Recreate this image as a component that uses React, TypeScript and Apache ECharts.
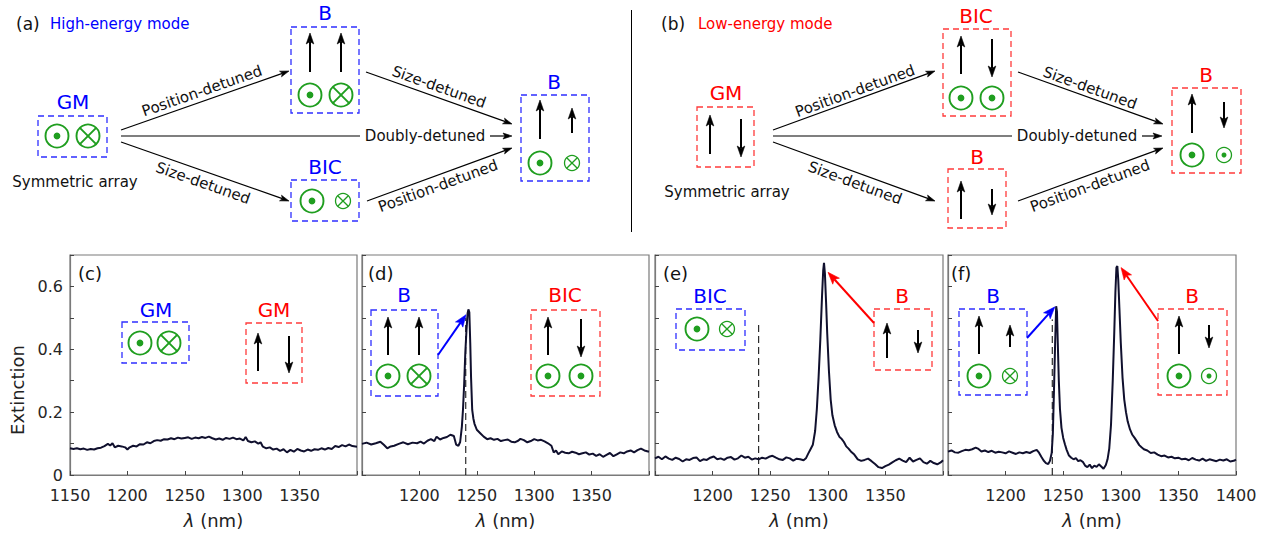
import React, { useEffect, useRef } from "react";
import * as echarts from "echarts";

const FONT = '"DejaVu Sans", sans-serif';
const BLUE = "#0000ff";
const BLUE_BOX = "#2f2fff";
const RED = "#ff0000";
const RED_BOX = "#ff3b3b";
const GREEN = "#1f9e1f";
const INK = "#000000";
const CURVE = "#10102e";
const FRAME = "#7a7a7a";

// ---------------- data ----------------
const panelLabels = ["(c)", "(d)", "(e)", "(f)"];
const yLabelValues = [0, 0.2, 0.4, 0.6];
const xLabelRange = [
  [1150, 1350],
  [1200, 1350],
  [1200, 1350],
  [1200, 1400],
];

// (c) symmetric array
const specC = [
  [1150, 0.085], [1153, 0.083], [1156, 0.085], [1159, 0.082], [1162, 0.084], [1165, 0.08], [1168, 0.083],
  [1171, 0.081], [1174, 0.085], [1177, 0.087], [1180, 0.092], [1183, 0.099], [1185, 0.094], [1187, 0.101],
  [1189, 0.088], [1192, 0.093], [1195, 0.091], [1198, 0.088], [1200, 0.081], [1202, 0.088], [1205, 0.093],
  [1208, 0.091], [1211, 0.098], [1214, 0.097], [1217, 0.104], [1220, 0.101], [1223, 0.108], [1226, 0.111],
  [1229, 0.109], [1232, 0.114], [1235, 0.113], [1238, 0.117], [1241, 0.114], [1244, 0.119], [1247, 0.116],
  [1250, 0.118], [1253, 0.12], [1256, 0.115], [1259, 0.119], [1262, 0.117], [1265, 0.121], [1268, 0.118],
  [1271, 0.122], [1274, 0.117], [1277, 0.113], [1280, 0.116], [1283, 0.112], [1286, 0.118], [1289, 0.115],
  [1292, 0.119], [1295, 0.114], [1298, 0.116], [1301, 0.11], [1303, 0.121], [1305, 0.108], [1308, 0.104],
  [1311, 0.107], [1314, 0.1], [1316, 0.104], [1318, 0.09], [1321, 0.085], [1324, 0.088], [1327, 0.081],
  [1330, 0.084], [1333, 0.077], [1336, 0.082], [1339, 0.072], [1342, 0.08], [1345, 0.074], [1348, 0.083],
  [1351, 0.078], [1354, 0.075], [1357, 0.081], [1360, 0.077], [1363, 0.082], [1366, 0.08], [1369, 0.085],
  [1372, 0.081], [1375, 0.086], [1378, 0.083], [1381, 0.092], [1384, 0.089], [1387, 0.095], [1390, 0.091],
  [1393, 0.097], [1396, 0.092], [1400, 0.09],
];

// (d) position-detuned
const specD = [
  [1150, 0.099], [1154, 0.103], [1158, 0.097], [1162, 0.101], [1166, 0.106], [1169, 0.096], [1172, 0.085],
  [1175, 0.091], [1178, 0.093], [1182, 0.099], [1186, 0.104], [1190, 0.098], [1194, 0.103], [1198, 0.101],
  [1201, 0.106], [1204, 0.1], [1207, 0.109], [1210, 0.114], [1213, 0.108], [1215, 0.122], [1218, 0.113],
  [1221, 0.118], [1224, 0.121], [1227, 0.128], [1230, 0.124], [1232, 0.097], [1234, 0.093], [1235.5, 0.105],
  [1237, 0.154], [1238, 0.21], [1239, 0.29], [1240, 0.39], [1241, 0.46], [1242, 0.515], [1242.7, 0.527],
  [1243.5, 0.518], [1244.3, 0.42], [1245, 0.31], [1246, 0.207], [1247, 0.18], [1248, 0.163], [1250, 0.144],
  [1253, 0.133], [1256, 0.122], [1259, 0.114], [1262, 0.117], [1265, 0.112], [1268, 0.115], [1271, 0.108],
  [1274, 0.111], [1277, 0.113], [1280, 0.106], [1283, 0.104], [1286, 0.109], [1288, 0.115], [1291, 0.111],
  [1294, 0.104], [1297, 0.108], [1300, 0.114], [1303, 0.11], [1306, 0.112], [1309, 0.107], [1312, 0.101],
  [1315, 0.093], [1317, 0.072], [1319, 0.078], [1321, 0.066], [1324, 0.075], [1327, 0.071], [1330, 0.069],
  [1333, 0.074], [1336, 0.071], [1339, 0.066], [1342, 0.069], [1345, 0.072], [1348, 0.065], [1351, 0.068],
  [1354, 0.061], [1357, 0.066], [1360, 0.058], [1363, 0.064], [1366, 0.07], [1369, 0.06], [1372, 0.066],
  [1375, 0.072], [1378, 0.069], [1381, 0.075], [1384, 0.078], [1387, 0.072], [1390, 0.079], [1393, 0.084],
  [1396, 0.078], [1400, 0.074],
];

// (e) size-detuned
const specE = [
  [1150, 0.053], [1153, 0.058], [1156, 0.05], [1159, 0.059], [1162, 0.052], [1165, 0.048], [1168, 0.055],
  [1171, 0.051], [1174, 0.043], [1177, 0.05], [1180, 0.048], [1183, 0.054], [1186, 0.056], [1189, 0.044],
  [1192, 0.05], [1195, 0.048], [1198, 0.055], [1201, 0.059], [1204, 0.05], [1207, 0.053], [1210, 0.048],
  [1213, 0.055], [1216, 0.057], [1219, 0.049], [1222, 0.053], [1225, 0.062], [1228, 0.055], [1231, 0.058],
  [1234, 0.049], [1237, 0.053], [1240, 0.05], [1243, 0.055], [1246, 0.052], [1249, 0.058], [1252, 0.061],
  [1255, 0.055], [1258, 0.05], [1261, 0.048], [1264, 0.056], [1267, 0.053], [1270, 0.046], [1273, 0.052],
  [1276, 0.05], [1279, 0.047], [1281, 0.053], [1283, 0.068], [1285, 0.082], [1287, 0.096], [1289, 0.14],
  [1290.5, 0.21], [1292, 0.31], [1293.5, 0.43], [1295, 0.57], [1296, 0.65], [1296.7, 0.675], [1297.5, 0.64],
  [1298.5, 0.55], [1299.5, 0.45], [1301, 0.33], [1302.5, 0.24], [1304, 0.19], [1306, 0.158], [1308, 0.137],
  [1310, 0.122], [1312, 0.115], [1314, 0.105], [1316, 0.091], [1318, 0.084], [1320, 0.075], [1323, 0.065],
  [1326, 0.05], [1329, 0.045], [1332, 0.048], [1335, 0.052], [1338, 0.044], [1341, 0.035], [1344, 0.025],
  [1347, 0.022], [1350, 0.028], [1353, 0.033], [1356, 0.04], [1359, 0.047], [1362, 0.052], [1365, 0.046],
  [1368, 0.041], [1371, 0.055], [1374, 0.043], [1377, 0.048], [1380, 0.053], [1383, 0.041], [1386, 0.036],
  [1389, 0.045], [1392, 0.038], [1395, 0.034], [1398, 0.04], [1400, 0.047],
];

// (f) doubly-detuned
const specF = [
  [1150, 0.0745], [1153, 0.078], [1156, 0.072], [1159, 0.071], [1162, 0.076], [1165, 0.08], [1168, 0.079],
  [1171, 0.082], [1174, 0.087], [1176, 0.084], [1179, 0.075], [1182, 0.078], [1185, 0.073], [1188, 0.077],
  [1191, 0.071], [1194, 0.074], [1197, 0.072], [1200, 0.069], [1203, 0.075], [1206, 0.071], [1209, 0.067],
  [1212, 0.072], [1215, 0.069], [1218, 0.073], [1221, 0.07], [1224, 0.076], [1227, 0.08], [1229, 0.071],
  [1231, 0.058], [1233, 0.046], [1235, 0.038], [1237, 0.035], [1238.5, 0.045], [1240, 0.07], [1241, 0.13],
  [1242, 0.27], [1243, 0.42], [1243.9, 0.537], [1244.6, 0.52], [1245.3, 0.42], [1246.2, 0.3], [1247.2, 0.21],
  [1248.5, 0.15], [1250, 0.118], [1251.5, 0.098], [1253, 0.08], [1255, 0.062], [1257, 0.055], [1259, 0.05],
  [1261, 0.054], [1263, 0.044], [1265, 0.047], [1267, 0.042], [1269, 0.03], [1271, 0.025], [1273, 0.033],
  [1275, 0.022], [1277, 0.03], [1279, 0.026], [1281, 0.034], [1283, 0.027], [1285, 0.02], [1287, 0.032],
  [1288.5, 0.05], [1290, 0.085], [1291.5, 0.16], [1293, 0.3], [1294.3, 0.45], [1295.3, 0.58], [1296.2, 0.66],
  [1297, 0.665], [1297.8, 0.62], [1298.8, 0.53], [1300, 0.42], [1301.5, 0.31], [1303, 0.24], [1304.5, 0.2],
  [1306, 0.17], [1308, 0.145], [1310, 0.128], [1312, 0.118], [1314, 0.107], [1316, 0.095], [1318, 0.088],
  [1320, 0.082], [1323, 0.078], [1326, 0.07], [1329, 0.072], [1332, 0.065], [1335, 0.06], [1338, 0.062],
  [1341, 0.056], [1344, 0.058], [1347, 0.053], [1350, 0.055], [1353, 0.05], [1356, 0.052], [1359, 0.047],
  [1362, 0.054], [1365, 0.049], [1368, 0.046], [1371, 0.052], [1374, 0.045], [1377, 0.05], [1380, 0.047],
  [1383, 0.044], [1386, 0.049], [1389, 0.046], [1392, 0.05], [1395, 0.043], [1398, 0.045], [1400, 0.049],
];

const spectra = [specC, specD, specE, specF];

// dashed reference lines (wavelength, top value) in panels d, e, f
const dashedMarks = [
  { grid: 1, x: 1240.4, top: 0.5 },
  { grid: 2, x: 1240, top: 0.485 },
  { grid: 3, x: 1240.5, top: 0.495 },
];

// inset arrows pointing at peaks (tip in data coords)
const insetArrows = [
  { grid: 1, from: [438, 355], tip: [1240.6, 0.51], color: BLUE },
  { grid: 2, from: [874, 323], tip: [1300.2, 0.645], color: RED },
  { grid: 3, from: [1027, 338], tip: [1242.8, 0.535], color: BLUE },
  { grid: 3, from: [1158, 321], tip: [1300.2, 0.66], color: RED },
];

// ---------------- layout ----------------
const GRIDS = [
  { left: 70, width: 287 },
  { left: 362, width: 287 },
  { left: 655, width: 288 },
  { left: 948, width: 288 },
];
const GRID_TOP = 255;
const GRID_H = 220;

// ---------------- graphic helpers ----------------
function text(t: string, x: number, y: number, o: any = {}) {
  const size = o.size || 15;
  return {
    type: "text",
    x,
    y,
    rotation: o.rot || 0,
    z: 10,
    style: {
      text: t,
      fill: o.color || "#111",
      font: `${size}px "DejaVu Sans", sans-serif`,
      textAlign: o.align || "center",
      align: o.align || "center",
      textVerticalAlign: "middle",
      verticalAlign: "middle",
    },
  };
}

function box(x1: number, y1: number, x2: number, y2: number, color: string) {
  return {
    type: "rect",
    z: 10,
    shape: { x: x1, y: y1, width: x2 - x1, height: y2 - y1 },
    style: { fill: "none", stroke: color, lineWidth: 1.3, lineDash: [6, 4] },
  };
}

function arrow(x1: number, y1: number, x2: number, y2: number, color: string, lw: number, hl: number, hw: number) {
  const dx = x2 - x1;
  const dy = y2 - y1;
  const L = Math.hypot(dx, dy);
  const ux = dx / L;
  const uy = dy / L;
  const bx = x2 - ux * hl;
  const by = y2 - uy * hl;
  const nx = x2 - ux * hl * 0.78;
  const ny = y2 - uy * hl * 0.78;
  return [
    { type: "line", z: 10, shape: { x1, y1, x2: nx, y2: ny }, style: { stroke: color, lineWidth: lw } },
    {
      type: "polygon",
      z: 10,
      shape: { points: [[x2, y2], [bx - uy * hw, by + ux * hw], [nx, ny], [bx + uy * hw, by - ux * hw]] },
      style: { fill: color, stroke: color, lineWidth: 0.6 },
    },
  ];
}

function varrow(x: number, yTail: number, yHead: number) {
  return arrow(x, yTail, x, yHead, INK, 2, 11, 3.8);
}

function link(x1: number, y1: number, x2: number, y2: number) {
  return arrow(x1, y1, x2, y2, INK, 1.2, 9, 3);
}

function dotCircle(cx: number, cy: number, r: number) {
  return [
    { type: "circle", z: 10, shape: { cx, cy, r }, style: { fill: "none", stroke: GREEN, lineWidth: r > 9 ? 1.9 : 1.3 } },
    { type: "circle", z: 10, shape: { cx, cy, r: r > 9 ? 3.4 : 2.5 }, style: { fill: GREEN } },
  ];
}

function crossCircle(cx: number, cy: number, r: number) {
  const d = r * 0.707;
  const lw = r > 9 ? 1.9 : 1.3;
  return [
    { type: "circle", z: 10, shape: { cx, cy, r }, style: { fill: "none", stroke: GREEN, lineWidth: lw } },
    { type: "line", z: 10, shape: { x1: cx - d, y1: cy - d, x2: cx + d, y2: cy + d }, style: { stroke: GREEN, lineWidth: lw } },
    { type: "line", z: 10, shape: { x1: cx - d, y1: cy + d, x2: cx + d, y2: cy - d }, style: { stroke: GREEN, lineWidth: lw } },
  ];
}

function buildGraphic(tips: number[][]) {
  const E: any[] = [];
  const push = (x: any) => (Array.isArray(x) ? E.push(...x) : E.push(x));
  const ang = Math.atan2(59, 168);

  // ---------- (a) high-energy mode ----------
  push(text("(a)", 16, 24, { size: 17, align: "left" }));
  push(text("High-energy mode", 50, 24, { size: 15, align: "left", color: BLUE }));
  push(box(38, 116, 107, 157, BLUE_BOX));
  push(text("GM", 73, 102, { size: 20, color: BLUE }));
  push(dotCircle(57, 136, 11.5));
  push(crossCircle(88, 136, 11.5));
  push(text("Symmetric array", 75, 182, { size: 15 }));
  push(link(121, 130, 289, 71));
  push(link(121, 142, 289, 201));
  push({ type: "line", z: 10, shape: { x1: 121, y1: 136, x2: 360, y2: 136 }, style: { stroke: INK, lineWidth: 1.2 } });
  push(text("Doubly-detuned", 425, 136, { size: 15 }));
  push(link(490, 136, 512, 136));
  push(text("Position-detuned", 202, 91, { size: 15, rot: ang }));
  push(text("Size-detuned", 203, 183, { size: 15, rot: -ang }));
  // B (upper)
  push(box(291, 27, 359, 113, BLUE_BOX));
  push(text("B", 325, 13, { size: 20, color: BLUE }));
  push(varrow(310, 72, 33));
  push(varrow(341, 72, 33));
  push(dotCircle(310, 95, 11.5));
  push(crossCircle(341, 95, 11.5));
  // BIC (lower)
  push(box(291, 180, 359, 221, BLUE_BOX));
  push(text("BIC", 325, 167, { size: 20, color: BLUE }));
  push(dotCircle(312, 201, 11.5));
  push(crossCircle(343, 201, 7.5));
  // to final
  push(link(366, 72, 512, 124));
  push(link(367, 201, 512, 148));
  push(text("Size-detuned", 439, 87, { size: 15, rot: -Math.atan2(52, 146) }));
  push(text("Position-detuned", 438, 186, { size: 15, rot: Math.atan2(53, 145) }));
  push(box(521, 95, 589, 181, BLUE_BOX));
  push(text("B", 554, 82, { size: 20, color: BLUE }));
  push(varrow(540, 139, 100));
  push(varrow(572, 133, 108));
  push(dotCircle(540, 163, 11.5));
  push(crossCircle(572, 163, 7.5));

  // separator
  push({ type: "line", z: 10, shape: { x1: 631.5, y1: 10, x2: 631.5, y2: 232 }, style: { stroke: INK, lineWidth: 1 } });

  // ---------- (b) low-energy mode ----------
  push(text("(b)", 661, 24, { size: 17, align: "left" }));
  push(text("Low-energy mode", 698, 24, { size: 15, align: "left", color: RED }));
  push(box(697, 107, 754, 167, RED_BOX));
  push(text("GM", 726, 93, { size: 20, color: RED }));
  push(varrow(710, 154, 115));
  push(varrow(741, 119, 157));
  push(text("Symmetric array", 727, 192, { size: 15 }));
  push(link(773, 130, 935, 71));
  push(link(773, 142, 935, 201));
  push({ type: "line", z: 10, shape: { x1: 773, y1: 136, x2: 1012, y2: 136 }, style: { stroke: INK, lineWidth: 1.2 } });
  push(text("Doubly-detuned", 1077, 136, { size: 15 }));
  push(link(1142, 136, 1162, 136));
  push(text("Position-detuned", 855, 91, { size: 15, rot: Math.atan2(59, 162) }));
  push(text("Size-detuned", 855, 183, { size: 15, rot: -Math.atan2(59, 162) }));
  // BIC (upper)
  push(box(943, 29, 1011, 116, RED_BOX));
  push(text("BIC", 976, 16, { size: 20, color: RED }));
  push(varrow(961, 74, 36));
  push(varrow(992, 39, 77));
  push(dotCircle(961, 98, 11.5));
  push(dotCircle(992, 98, 11.5));
  // B (lower)
  push(box(948, 169, 1006, 228, RED_BOX));
  push(text("B", 977, 157, { size: 20, color: RED }));
  push(varrow(961, 219, 181));
  push(varrow(992, 189, 215));
  // to final
  push(link(1018, 72, 1163, 124));
  push(link(1018, 201, 1163, 148));
  push(text("Size-detuned", 1090, 88, { size: 15, rot: -Math.atan2(52, 145) }));
  push(text("Position-detuned", 1090, 186, { size: 15, rot: Math.atan2(53, 145) }));
  push(box(1172, 88, 1241, 173, RED_BOX));
  push(text("B", 1206, 75, { size: 20, color: RED }));
  push(varrow(1192, 133, 94));
  push(varrow(1224, 102, 128));
  push(dotCircle(1192, 155, 11.5));
  push(dotCircle(1224, 155, 7.5));

  // ---------- panel texts ----------
  push(text("Extinction", 17, 390, { size: 18, rot: Math.PI / 2, color: "#222" }));
  const labelX = [78, 368, 663, 951];
  panelLabels.forEach((l, i) => push(text(l, labelX[i], 273, { size: 18, align: "left", color: "#111" })));

  // (c) insets
  push(text("GM", 156, 310, { size: 20, color: BLUE }));
  push(box(122, 322, 189, 363, BLUE_BOX));
  push(dotCircle(140, 343, 11.5));
  push(crossCircle(169, 343, 11.5));
  push(text("GM", 274, 310, { size: 20, color: RED }));
  push(box(246, 323, 302, 383, RED_BOX));
  push(varrow(258, 371, 333));
  push(varrow(289, 336, 373));

  // (d) insets
  push(text("B", 404, 295, { size: 20, color: BLUE }));
  push(box(371, 310, 438, 396, BLUE_BOX));
  push(varrow(388, 355, 317));
  push(varrow(419, 355, 317));
  push(dotCircle(388, 376, 11.5));
  push(crossCircle(419, 376, 11.5));
  push(text("BIC", 565, 295, { size: 20, color: RED }));
  push(box(531, 310, 600, 396, RED_BOX));
  push(varrow(548, 355, 317));
  push(varrow(581, 319, 357));
  push(dotCircle(548, 376, 11.5));
  push(dotCircle(581, 376, 11.5));

  // (e) insets
  push(text("BIC", 710, 296, { size: 20, color: BLUE }));
  push(box(676, 309, 745, 350, BLUE_BOX));
  push(dotCircle(697, 329, 11.5));
  push(crossCircle(727, 329, 7.5));
  push(text("B", 902, 296, { size: 20, color: RED }));
  push(box(874, 309, 932, 370, RED_BOX));
  push(varrow(887, 358, 323));
  push(varrow(918, 330, 353));

  // (f) insets
  push(text("B", 993, 296, { size: 20, color: BLUE }));
  push(box(959, 309, 1027, 395, BLUE_BOX));
  push(varrow(979, 354, 316));
  push(varrow(1010, 347, 325));
  push(dotCircle(979, 376, 11.5));
  push(crossCircle(1010, 376, 7.5));
  push(text("B", 1192, 296, { size: 20, color: RED }));
  push(box(1158, 309, 1227, 395, RED_BOX));
  push(varrow(1179, 354, 316));
  push(varrow(1209, 325, 348));
  push(dotCircle(1179, 376, 11.5));
  push(dotCircle(1209, 376, 7.5));

  // arrows to peaks
  insetArrows.forEach((a, i) => {
    const t = tips[i];
    push(arrow(a.from[0], a.from[1], t[0], t[1], a.color, 2, 12, 4.5));
  });
  return E;
}

function buildOption() {
  const grid = GRIDS.map((g) => ({
    left: g.left,
    width: g.width,
    top: GRID_TOP,
    height: GRID_H,
    show: true,
    borderColor: FRAME,
    borderWidth: 1.2,
    backgroundColor: "transparent",
    containLabel: false,
  }));
  const xAxis = GRIDS.map((_, i) => ({
    type: "value",
    gridIndex: i,
    min: 1150,
    max: 1400,
    interval: 50,
    axisLine: { show: true, lineStyle: { color: FRAME, width: 1.2 } },
    axisTick: { show: true, inside: true, length: 4, lineStyle: { color: "#444" } },
    splitLine: { show: false },
    axisLabel: {
      show: true,
      showMinLabel: true,
      showMaxLabel: true,
      hideOverlap: false,
      margin: 12,
      color: "#262626",
      fontSize: 16,
      fontFamily: FONT,
      formatter: (v: number) => (v >= xLabelRange[i][0] && v <= xLabelRange[i][1] ? String(Math.round(v)) : ""),
    },
    name: "{it|λ} (nm)",
    nameLocation: "middle",
    nameGap: 36,
    nameTextStyle: {
      color: "#222",
      fontSize: 18,
      fontFamily: FONT,
      rich: { it: { fontStyle: "italic", fontSize: 18, fontFamily: FONT, color: "#222" } },
    },
  }));
  const yAxis = GRIDS.map((_, i) => ({
    type: "value",
    gridIndex: i,
    min: 0,
    max: 0.7,
    interval: 0.1,
    axisLine: { show: true, lineStyle: { color: FRAME, width: 1.2 } },
    axisTick: { show: true, inside: true, length: 4, lineStyle: { color: "#444" } },
    splitLine: { show: false },
    axisLabel: {
      show: i === 0,
      showMinLabel: true,
      margin: 7,
      color: "#262626",
      fontSize: 16,
      fontFamily: FONT,
      formatter: (v: number) => {
        const hit = yLabelValues.find((y) => Math.abs(y - v) < 1e-6);
        return hit === undefined ? "" : String(hit);
      },
    },
  }));
  const series: any[] = [];
  dashedMarks.forEach((d) => {
    series.push({
      type: "line",
      xAxisIndex: d.grid,
      yAxisIndex: d.grid,
      data: [
        [d.x, 0],
        [d.x, d.top],
      ],
      showSymbol: false,
      silent: true,
      z: 1,
      lineStyle: { color: "#000", width: 1, type: [7, 4] },
    });
  });
  spectra.forEach((s, i) => {
    series.push({
      type: "line",
      xAxisIndex: i,
      yAxisIndex: i,
      data: s,
      showSymbol: false,
      silent: true,
      z: 3,
      lineStyle: { color: CURVE, width: 2 },
    });
  });
  return {
    animation: false,
    backgroundColor: "#ffffff",
    textStyle: { fontFamily: FONT },
    grid,
    xAxis,
    yAxis,
    series,
  };
}

export default function App() {
  const ref = useRef<HTMLDivElement>(null);
  useEffect(() => {
    document.body.style.margin = "0";
    const chart = echarts.init(ref.current!, undefined, { renderer: "svg" });
    chart.setOption(buildOption() as any);
    const tips = insetArrows.map((a) => chart.convertToPixel({ gridIndex: a.grid } as any, a.tip) as number[]);
    chart.setOption({ graphic: buildGraphic(tips) } as any);
    return () => chart.dispose();
  }, []);
  return <div ref={ref} style={{ position: "absolute", left: 0, top: 0, width: 1273, height: 540 }} />;
}
